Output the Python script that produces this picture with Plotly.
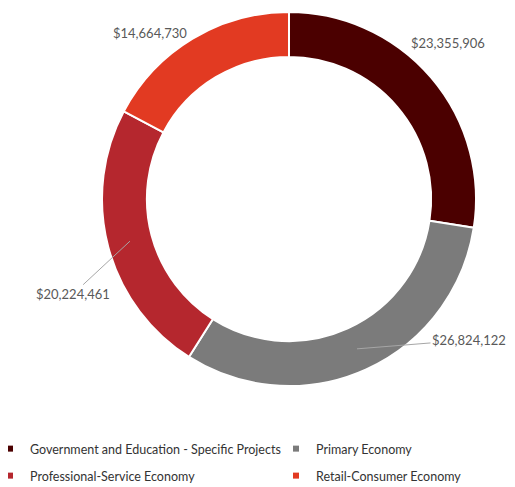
import math
import plotly.graph_objects as go

categories = ["Government and Education - Specific Projects", "Primary Economy",
              "Professional-Service Economy", "Retail-Consumer Economy"]
values = [23355906, 26824122, 20224461, 14664730]
colors = ["#4b0000", "#7b7b7b", "#b5272e", "#e23a22"]

W, H = 515, 487
CX, CY = 281, 296          # donut centre in px (y from bottom)
R = 187                     # outer radius in px
HOLE = 0.76

fig = go.Figure()
fig.add_trace(go.Pie(
    labels=categories, values=values, sort=False, direction="clockwise",
    hole=HOLE, marker=dict(colors=colors, line=dict(color="white", width=2)),
    textinfo="none", hoverinfo="label+value", showlegend=False,
    domain=dict(x=[(CX - R) / W, (CX + R) / W], y=[(CY - R) / H, (CY + R) / H]),
))

# legend entries: 2 x 2 grid, one legend box per entry
legend_pos = [(-18, 46), (268, 46), (-18, 19), (268, 19)]
legend_names = ["legend", "legend2", "legend3", "legend4"]
for cat, col, lname in zip(categories, colors, legend_names):
    fig.add_trace(go.Scatter(
        x=[None], y=[None], mode="markers", name=cat,
        marker=dict(symbol="square", size=6, color=col),
        legend=lname, showlegend=True,
    ))

# data labels computed from slice mid-angles
total = sum(values)
label_offsets = [(17, -34, False, 1.0), (112, -9, True, 0.88), (-57, 53, True, 0.88), (-43, -6, False, 1.0)]
cum = 0
for v, (ax, ay, line, rf) in zip(values, label_offsets):
    mid = (cum + v / 2) / total * 2 * math.pi
    cum += v
    r = R * rf
    px = CX + r * math.sin(mid)
    py = CY + r * math.cos(mid)
    fig.add_annotation(
        x=px / W, y=py / H, xref="paper", yref="paper",
        text="${:,}".format(v), showarrow=True, arrowhead=0, arrowwidth=1,
        arrowcolor="#a6a6a6" if line else "rgba(0,0,0,0)",
        ax=ax, ay=ay, font=dict(size=13, color="#595959"), standoff=0,
    )

legends = {}
for lname, (lx, ly) in zip(legend_names, legend_pos):
    legends[lname] = dict(orientation="h", xanchor="left", x=lx / W, yanchor="middle", y=ly / H,
                          font=dict(size=12.5, color="#333333"), bgcolor="rgba(0,0,0,0)")
fig.update_layout(
    width=W, height=H, margin=dict(l=0, r=0, t=0, b=0, autoexpand=False),
    paper_bgcolor="white", plot_bgcolor="white",
    font=dict(family="Lato, sans-serif"),
    xaxis=dict(visible=False), yaxis=dict(visible=False),
    **legends,
)
fig.write_html("out.html")
